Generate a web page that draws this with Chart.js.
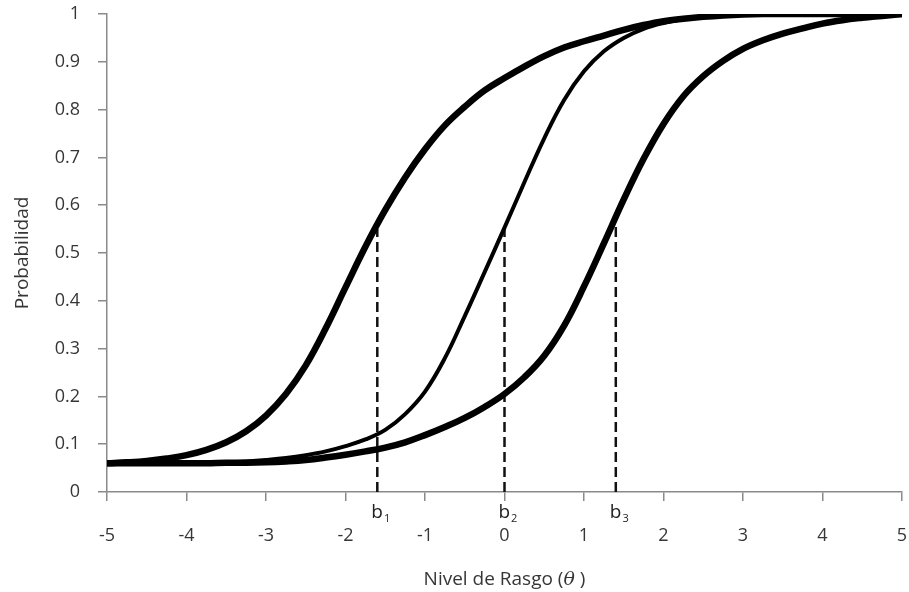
<!DOCTYPE html>
<html>
<head>
<meta charset="utf-8">
<script src="https://cdn.jsdelivr.net/npm/chart.js@4.4.1/dist/chart.umd.min.js"></script>
<style>
  html, body { margin: 0; padding: 0; background: #fff; }
  #wrap { width: 909px; height: 592px; position: relative; }
</style>
</head>
<body>
<div id="wrap"><canvas id="icc"></canvas></div>
<script>
// Trait levels (theta) at which the three item curves are sampled
const theta = [-5, -4.75, -4.5, -4.25, -4, -3.75, -3.5, -3.25, -3, -2.75, -2.5, -2.25, -2, -1.75, -1.5, -1.25, -1, -0.75, -0.5, -0.25,
               0, 0.25, 0.5, 0.75, 1, 1.25, 1.5, 1.75, 2, 2.25, 2.5, 2.75, 3, 3.25, 3.5, 3.75, 4, 4.25, 4.5, 4.75, 5];

// Probability of a correct answer for each item
const item1 = [0.060, 0.062, 0.065, 0.070, 0.077, 0.088, 0.104, 0.127, 0.160, 0.205, 0.265, 0.342, 0.428, 0.513, 0.590, 0.658, 0.717, 0.767, 0.806, 0.840,
               0.866, 0.890, 0.912, 0.930, 0.943, 0.955, 0.967, 0.977, 0.985, 0.990, 0.994, 0.997, 0.999, 1.000, 1.000, 1.000, 1.000, 1.000, 1.000, 1.000, 1.000];
const item2 = [0.060, 0.060, 0.060, 0.060, 0.060, 0.061, 0.062, 0.064, 0.067, 0.071, 0.077, 0.085, 0.096, 0.110, 0.130, 0.163, 0.210, 0.280, 0.368, 0.460,
               0.553, 0.648, 0.740, 0.820, 0.880, 0.922, 0.950, 0.969, 0.981, 0.989, 0.994, 0.997, 0.999, 1.000, 1.000, 1.000, 1.000, 1.000, 1.000, 1.000, 1.000];
const item3 = [0.060, 0.060, 0.060, 0.060, 0.060, 0.060, 0.061, 0.061, 0.062, 0.064, 0.067, 0.072, 0.078, 0.085, 0.093, 0.104, 0.119, 0.136, 0.155, 0.178,
               0.205, 0.240, 0.285, 0.348, 0.430, 0.520, 0.612, 0.697, 0.770, 0.828, 0.870, 0.902, 0.927, 0.945, 0.959, 0.970, 0.980, 0.987, 0.992, 0.996, 1.000];

// Difficulty parameters b1, b2, b3 and the height of their reference lines
const difficulty = [-1.6, 0, 1.4];
const diffLabels = ['1', '2', '3'];
const dashTop = [0.55, 0.55, 0.555];

// Axis tick values
const xTicks = [-5, -4, -3, -2, -1, 0, 1, 2, 3, 4, 5];
const yTicks = [0, 0.1, 0.2, 0.3, 0.4, 0.5, 0.6, 0.7, 0.8, 0.9, 1];

const FONT = "'Open Sans', 'DejaVu Sans', sans-serif";
const TEXT = '#363636';
const AXIS = '#8a8a8a';

const toPoints = (ys) => theta.map((t, i) => ({ x: t, y: ys[i] }));

const curveStyle = (w) => ({
  borderColor: '#000', backgroundColor: '#000', borderWidth: w,
  pointRadius: 0, fill: false, tension: 0.4, cubicInterpolationMode: 'default'
});

const datasets = [
  Object.assign({ label: 'Ítem 1', data: toPoints(item1) }, curveStyle(6.5)),
  Object.assign({ label: 'Ítem 2', data: toPoints(item2) }, curveStyle(4)),
  Object.assign({ label: 'Ítem 3', data: toPoints(item3) }, curveStyle(6.5))
];
difficulty.forEach((b, i) => {
  datasets.push({
    label: 'b' + diffLabels[i],
    data: [{ x: b, y: 0 }, { x: b, y: dashTop[i] }],
    borderColor: '#111', borderWidth: 2.5, borderDash: [10, 5],
    pointRadius: 0, fill: false, tension: 0
  });
});

// Labels b₁ b₂ b₃ under the axis, plus the x-axis title with an italic theta
const annotations = {
  id: 'annotations',
  afterDraw(chart) {
    const { ctx, scales: { x, y } } = chart;
    const base = y.getPixelForValue(0);
    ctx.save();
    ctx.fillStyle = '#222';
    ctx.textBaseline = 'alphabetic';
    ctx.textAlign = 'left';
    difficulty.forEach((b, i) => {
      const px = x.getPixelForValue(b);
      ctx.font = '19px ' + FONT;
      const w = ctx.measureText('b').width;
      ctx.fillText('b', px - 6, base + 26);
      ctx.font = '11px ' + FONT;
      ctx.fillText(diffLabels[i], px - 6 + w + 1, base + 30);
    });

    // x-axis title
    const cx = (chart.chartArea.left + chart.chartArea.right) / 2;
    const ty = 585;
    const part1 = 'Nivel de Rasgo (';
    const part2 = 'θ';
    const part3 = ' )';
    ctx.font = '19px ' + FONT;
    const w1 = ctx.measureText(part1).width;
    const w3 = ctx.measureText(part3).width;
    ctx.font = 'italic 19px "DejaVu Serif", serif';
    const w2 = ctx.measureText(part2).width;
    const sx = cx - (w1 + w2 + w3) / 2;
    ctx.fillStyle = TEXT;
    ctx.font = '19px ' + FONT;
    ctx.fillText(part1, sx, ty);
    ctx.font = 'italic 19px "DejaVu Serif", serif';
    ctx.fillText(part2, sx + w1, ty);
    ctx.font = '19px ' + FONT;
    ctx.fillText(part3, sx + w1 + w2, ty);
    ctx.restore();
  }
};

new Chart(document.getElementById('icc'), {
  type: 'line',
  data: { datasets },
  plugins: [annotations],
  options: {
    responsive: true,
    maintainAspectRatio: false,
    animation: false,
    layout: { padding: { top: 14, right: 7, left: 0, bottom: 0 } },
    plugins: { legend: { display: false }, tooltip: { enabled: false } },
    scales: {
      x: {
        type: 'linear', min: -5, max: 5,
        afterFit: (s) => { s.height = 100; s.paddingLeft = 0; s.paddingRight = 0; },
        afterBuildTicks: (s) => { s.ticks = xTicks.map(v => ({ value: v })); },
        grid: { drawOnChartArea: false, drawTicks: true, tickLength: 9, color: AXIS, lineWidth: 1.5 },
        border: { color: AXIS, width: 1.5 },
        ticks: {
          padding: 24, color: TEXT, font: { family: FONT, size: 18 },
          maxRotation: 0, autoSkip: false,
          callback: (v) => String(v)
        }
      },
      y: {
        type: 'linear', min: 0, max: 1,
        afterFit: (s) => { s.width = 107; s.paddingTop = 0; s.paddingBottom = 0; },
        afterBuildTicks: (s) => { s.ticks = yTicks.map(v => ({ value: v })); },
        grid: { drawOnChartArea: false, drawTicks: true, tickLength: 9, color: AXIS, lineWidth: 1.5 },
        border: { color: AXIS, width: 1.5 },
        ticks: {
          padding: 18, color: TEXT, font: { family: FONT, size: 18 },
          autoSkip: false,
          callback: (v) => String(Math.round(v * 10) / 10)
        },
        title: {
          display: true, text: 'Probabilidad', color: TEXT,
          font: { family: FONT, size: 19 }, padding: { top: 11, bottom: 0 }
        }
      }
    }
  }
});
</script>
</body>
</html>
